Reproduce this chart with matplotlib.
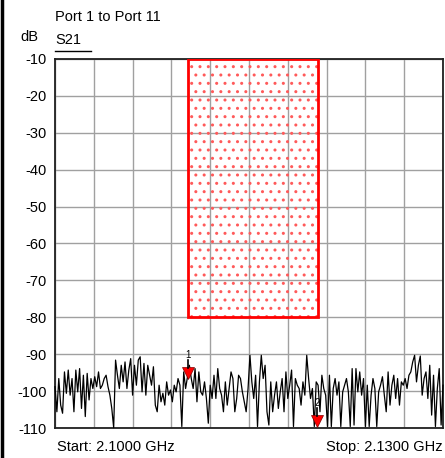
import numpy as np
import matplotlib.pyplot as plt
from matplotlib.patches import Rectangle
from matplotlib.lines import Line2D

plt.rcParams['font.family'] = ['Liberation Sans', 'DejaVu Sans']
plt.rcParams['font.size'] = 10.5
plt.rcParams['hatch.linewidth'] = 1.0

# ==================== data ====================
f_start = 2.1000
f_stop = 2.1300
y_ticks = [-10, -20, -30, -40, -50, -60, -70, -80, -90, -100, -110]

# S21 trace (dB), evenly spaced from start to stop
s21_db = [
    -98.8, -105.6, -96.6, -103.8, -106.0, -94.8, -100.6, -94.3, -101.1, -96.6,
    -105.6, -94.3, -100.2, -93.9, -104.7, -95.7, -106.9, -95.2, -102.4, -96.6,
    -99.3, -96.1, -98.8, -94.8, -99.3, -98.4, -96.6, -95.7, -98.8, -101.1,
    -104.7, -109.9, -91.6, -95.7, -99.3, -93.0, -97.5, -92.1, -99.3, -94.3,
    -91.2, -101.1, -93.0, -98.4, -91.6, -90.7, -100.2, -92.5, -101.1, -93.0,
    -95.7, -98.4,
    -93.4, -103.8, -105.6, -98.4, -102.9, -100.6, -103.8, -97.5, -101.1, -99.7,
    -102.9, -98.4, -100.2, -96.6, -98.4, -109.6, -94.8, -99.3, -96.1, -93.0,
    -96.6, -99.3, -93.9, -102.9, -94.8, -100.2, -101.1, -97.5, -102.0, -108.7,
    -98.4, -102.0, -95.7, -102.0, -93.9, -99.3, -101.1, -105.6, -97.5, -103.8,
    -99.3, -94.8, -96.6, -105.6, -102.0, -95.7, -96.6, -100.2, -102.9, -105.6,
    -99.3, -90.3, -97.5, -102.0, -95.7, -109.6,
    -97.5, -90.3, -96.6, -93.0, -105.6, -109.2, -97.5, -105.6, -101.1, -97.5,
    -104.7, -100.2, -96.6, -105.6, -94.8, -102.0, -98.4, -94.3, -109.6, -96.6,
    -98.4, -99.3, -103.8, -97.5, -101.1, -90.3, -96.6, -102.0, -99.3, -109.6,
    -97.5, -98.4, -105.6, -95.7, -99.3, -101.1, -109.6, -95.7, -109.6, -99.3,
    -96.6, -101.1, -97.5, -109.6, -100.2, -98.4, -96.6, -100.2, -109.6, -93.9,
    -109.2, -93.9, -100.2, -94.8, -101.1, -96.6, -109.6, -98.4, -109.6, -101.1,
    -96.6, -99.3, -109.6, -100.2, -98.4, -96.1, -101.1, -105.6, -94.8, -103.8,
    -98.4, -95.7, -102.0, -96.6, -103.8, -97.5, -98.4, -96.6, -99.3, -95.7,
    -94.8, -92.1, -90.3, -97.5, -93.0, -90.5, -101.1, -96.6, -94.8, -102.0,
    -93.0, -106.5, -95.7, -109.6, -99.3, -93.9, -109.2, -98.4,
]

# limit mask (red dotted box)
mask_f = [2.1103, 2.1203]
mask_db = [-80, -10]

# markers
marker_names = ['1', '2']
marker_f = [2.11028, 2.12026]
marker_db = [-97.0, -110.0]

# ==================== plot ====================
fig = plt.figure(figsize=(4.45, 4.58), dpi=100)
ax = fig.add_axes([55 / 445, 1 - 428 / 458, 388 / 445, 369 / 458])

freqs = np.linspace(f_start, f_stop, len(s21_db))

# mask box
ax.add_patch(Rectangle((mask_f[0], mask_db[0]), mask_f[1] - mask_f[0], mask_db[1] - mask_db[0],
                       facecolor='none', edgecolor='#ff5a5a', hatch='..', linewidth=0, zorder=2))
ax.add_patch(Rectangle((mask_f[0], mask_db[0]), mask_f[1] - mask_f[0], mask_db[1] - mask_db[0],
                       facecolor='none', edgecolor='#ff0000', linewidth=2, zorder=4))

ax.plot(freqs, s21_db, color='black', linewidth=0.9, zorder=3, clip_on=False)

# markers
for name, mf, md in zip(marker_names, marker_f, marker_db):
    ax.plot([mf], [md + 1.8], marker='v', color='red', markersize=8,
            markeredgecolor='#800000', markeredgewidth=0.5, zorder=6, clip_on=False)
    ax.plot([mf, mf], [md + 3.2, md + 5.5], color='black', linewidth=1.2, zorder=6)
    ax.text(mf, md + 5.3, name, ha='center', va='bottom', fontsize=7, zorder=7)

ax.set_xlim(f_start, f_stop)
ax.set_ylim(-110, -10)
ax.set_xticks(np.linspace(f_start, f_stop, 11))
ax.set_xticklabels([])
ax.set_yticks(y_ticks)
ax.set_yticklabels([str(t) for t in y_ticks])
ax.tick_params(length=0, pad=6)
ax.tick_params(axis='y', labelsize=10.5)
ax.grid(True, color='#a0a0a0', linewidth=1.0)
ax.set_axisbelow(True)
for sp in ax.spines.values():
    sp.set_color('#202020')
    sp.set_linewidth(1.3)

# header texts
fig.text(55 / 445, 1 - 17 / 458, 'Port 1 to Port 11', ha='left', va='center')
fig.text(20 / 445, 1 - 37 / 458, 'dB', ha='left', va='center')
fig.text(55 / 445, 1 - 40 / 458, 'S21', ha='left', va='center')
fig.add_artist(Line2D([55 / 445, 91 / 445], [1 - 51 / 458, 1 - 51 / 458],
                      color='black', linewidth=1.0))

# footer texts
fig.text(57 / 445, 1 - 447 / 458, 'Start: 2.1000 GHz', ha='left', va='center')
fig.text(443 / 445, 1 - 447 / 458, 'Stop: 2.1300 GHz', ha='right', va='center')

# left frame
fig.add_artist(Line2D([2 / 445, 2 / 445], [0, 1], color='black', linewidth=2.5))

fig.savefig('out.png', dpi=100)
